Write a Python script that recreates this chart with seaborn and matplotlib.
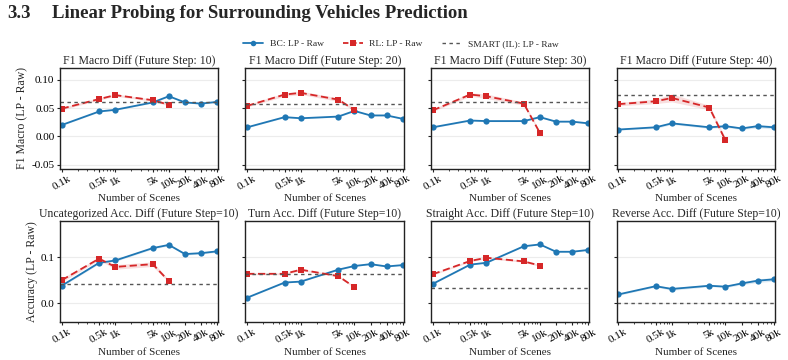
import numpy as np
import pandas as pd
import matplotlib
matplotlib.use("Agg")
import matplotlib.pyplot as plt
import seaborn as sns
from matplotlib.ticker import FixedLocator, FixedFormatter, LogLocator, NullFormatter
from matplotlib.lines import Line2D

# ---------------- data ----------------
scenes = [100, 500, 1000, 5000, 10000, 20000, 40000, 80000]
scene_labels = ["0.1k", "0.5k", "1k", "5k", "10k", "20k", "40k", "80k"]
rl_scenes = [100, 500, 1000, 5000, 10000]

titles = [
    "F1 Macro Diff (Future Step: 10)", "F1 Macro Diff (Future Step: 20)",
    "F1 Macro Diff (Future Step: 30)", "F1 Macro Diff (Future Step: 40)",
    "Uncategorized Acc. Diff (Future Step=10)", "Turn Acc. Diff (Future Step=10)",
    "Straight Acc. Diff (Future Step=10)", "Reverse Acc. Diff (Future Step=10)",
]

bc_f1_10 = [0.020, 0.044, 0.047, 0.060, 0.071, 0.060, 0.058, 0.061]
bc_f1_20 = [0.016, 0.034, 0.032, 0.035, 0.045, 0.037, 0.037, 0.031]
bc_f1_30 = [0.016, 0.028, 0.027, 0.027, 0.034, 0.026, 0.026, 0.023]
bc_f1_40 = [0.012, 0.016, 0.023, 0.016, 0.018, 0.014, 0.018, 0.016]
bc_unc = [0.038, 0.088, 0.093, 0.120, 0.127, 0.107, 0.109, 0.113]
bc_turn = [0.012, 0.045, 0.047, 0.073, 0.081, 0.085, 0.080, 0.083]
bc_straight = [0.042, 0.084, 0.088, 0.124, 0.128, 0.112, 0.112, 0.116]
bc_reverse = [0.019, 0.037, 0.031, 0.038, 0.036, 0.043, 0.049, 0.052]

rl_f1_10 = [0.049, 0.066, 0.073, 0.064, 0.056]
rl_f1_20 = [0.054, 0.074, 0.077, 0.065, 0.047]
rl_f1_30 = [0.046, 0.074, 0.071, 0.058, 0.006]
rl_f1_40 = [0.057, 0.062, 0.068, 0.051, -0.007]
rl_unc = [0.050, 0.097, 0.079, 0.085, 0.048]
rl_turn = [0.064, 0.064, 0.073, 0.059, 0.035]
rl_straight = [0.063, 0.092, 0.099, 0.091, 0.082]
rl_reverse = None

smart_vals = [0.060, 0.0575, 0.061, 0.074, 0.042, 0.0626, 0.032, 0.0]

# approximate half-widths of the shaded bands
bc_err = [
    [0.001, 0.001, 0.001, 0.001, 0.001, 0.001, 0.001, 0.001],
    [0.001, 0.001, 0.001, 0.001, 0.001, 0.001, 0.001, 0.001],
    [0.001, 0.001, 0.001, 0.001, 0.001, 0.001, 0.001, 0.001],
    [0.001, 0.002, 0.002, 0.002, 0.002, 0.002, 0.003, 0.003],
    [0.002, 0.002, 0.002, 0.002, 0.002, 0.002, 0.002, 0.002],
    [0.001, 0.001, 0.001, 0.001, 0.001, 0.001, 0.001, 0.001],
    [0.001, 0.001, 0.001, 0.001, 0.001, 0.001, 0.001, 0.001],
    [0.002, 0.002, 0.003, 0.002, 0.002, 0.003, 0.004, 0.004],
]
rl_err = [
    [0.002, 0.002, 0.002, 0.002, 0.002],
    [0.002, 0.003, 0.003, 0.003, 0.002],
    [0.002, 0.003, 0.004, 0.003, 0.002],
    [0.003, 0.004, 0.007, 0.004, 0.004],
    [0.004, 0.003, 0.005, 0.005, 0.003],
    [0.002, 0.002, 0.002, 0.002, 0.002],
    [0.002, 0.002, 0.002, 0.002, 0.002],
    None,
]

bc_all = [bc_f1_10, bc_f1_20, bc_f1_30, bc_f1_40, bc_unc, bc_turn, bc_straight, bc_reverse]
rl_all = [rl_f1_10, rl_f1_20, rl_f1_30, rl_f1_40, rl_unc, rl_turn, rl_straight, rl_reverse]

BC_NAME = "BC: LP - Raw"
RL_NAME = "RL: LP - Raw"
SMART_NAME = "SMART (IL): LP - Raw"
BC_COLOR = "#1f77b4"
RL_COLOR = "#d62728"

# ---------------- style ----------------
sns.set_theme(style="ticks")
plt.rcParams["font.family"] = ["Liberation Serif", "DejaVu Serif"]
plt.rcParams["mathtext.fontset"] = "stix"

fig = plt.figure(figsize=(7.88, 3.6), dpi=100)
gs = fig.add_gridspec(2, 4, left=0.0761, right=0.9835, top=0.8111, bottom=0.1056,
                      wspace=0.171, hspace=0.527)
axes = [[fig.add_subplot(gs[r, c]) for c in range(4)] for r in range(2)]

ylims = [(-0.057, 0.121), (-0.041, 0.178)]
yticks = [[-0.05, 0.0, 0.05, 0.10], [0.0, 0.1]]
ytick_labels = [["-0.05", "0.00", "0.05", "0.10"], ["0.0", "0.1"]]
ylabels = ["F1 Macro (LP - Raw)", "Accuracy (LP - Raw)"]

for i in range(8):
    r, c = divmod(i, 4)
    ax = axes[r][c]
    rows = [{"scenes": s, "value": v, "method": BC_NAME} for s, v in zip(scenes, bc_all[i])]
    if rl_all[i] is not None:
        rows += [{"scenes": s, "value": v, "method": RL_NAME} for s, v in zip(rl_scenes, rl_all[i])]
    df = pd.DataFrame(rows)
    sns.lineplot(data=df, x="scenes", y="value", hue="method", style="method",
                 palette={BC_NAME: BC_COLOR, RL_NAME: RL_COLOR},
                 markers={BC_NAME: "o", RL_NAME: "s"},
                 dashes={BC_NAME: "", RL_NAME: (4, 2)},
                 markersize=4.5, linewidth=1.3, markeredgewidth=0,
                 errorbar=None, legend=False, ax=ax)
    b = np.array(bc_all[i]); e = np.array(bc_err[i])
    ax.fill_between(scenes, b - e, b + e, color=BC_COLOR, alpha=0.15, linewidth=0)
    if rl_all[i] is not None:
        rv = np.array(rl_all[i]); re_ = np.array(rl_err[i])
        ax.fill_between(rl_scenes, rv - re_, rv + re_, color=RL_COLOR, alpha=0.15, linewidth=0)
    ax.axhline(smart_vals[i], color="#555555", linestyle=(0, (2.5, 2.5)), linewidth=1.0)

    ax.set_xscale("log")
    ax.set_xlim(93, 84000)
    ax.xaxis.set_major_locator(FixedLocator(scenes))
    ax.xaxis.set_major_formatter(FixedFormatter(scene_labels))
    ax.xaxis.set_minor_locator(LogLocator(base=10, subs=np.arange(2, 10)))
    ax.xaxis.set_minor_formatter(NullFormatter())
    for lab in ax.get_xticklabels():
        lab.set_rotation(30)
        lab.set_ha("center")
    ax.set_ylim(*ylims[r])
    ax.set_yticks(yticks[r])
    ax.set_yticklabels(ytick_labels[r] if c == 0 else [])
    ax.yaxis.grid(True, color="#ececec", linewidth=0.8)
    ax.set_axisbelow(True)
    ax.tick_params(axis="both", labelsize=8, length=2.5, width=0.8, pad=1.5, colors="#222222")
    ax.tick_params(axis="x", which="minor", length=1.5, width=0.6)
    for lab in ax.get_xticklabels() + ax.get_yticklabels():
        lab.set_color("black")
    for sp in ax.spines.values():
        sp.set_visible(True)
        sp.set_color("#222222")
        sp.set_linewidth(1.0)
    ax.set_title(titles[i], fontsize=8.5, pad=3)
    ax.set_xlabel("Number of Scenes", fontsize=8, labelpad=2)
    ax.set_ylabel(ylabels[r] if c == 0 else "", fontsize=8.5, labelpad=2)

# legend
handles = [
    Line2D([], [], color=BC_COLOR, marker="o", markersize=4, linewidth=1.3, markeredgewidth=0),
    Line2D([], [], color=RL_COLOR, marker="s", markersize=4, linewidth=1.3, linestyle=(0, (3, 1.5)), markeredgewidth=0),
    Line2D([], [], color="#555555", linewidth=1.0, linestyle=(0, (2.5, 2.5))),
]
fig.legend(handles, [BC_NAME, RL_NAME, SMART_NAME], loc="center", bbox_to_anchor=(0.509, 0.878),
           ncol=3, frameon=False, fontsize=6.8, handlelength=2.1, columnspacing=2.0, handletextpad=0.7)

# section heading
fig.text(0.009, 0.962, "3.3", fontsize=13.5, fontweight="bold", va="center", ha="left")
fig.text(0.066, 0.962, "Linear Probing for Surrounding Vehicles Prediction", fontsize=13.5,
         fontweight="bold", va="center", ha="left")

fig.savefig("out.png", dpi=100)
